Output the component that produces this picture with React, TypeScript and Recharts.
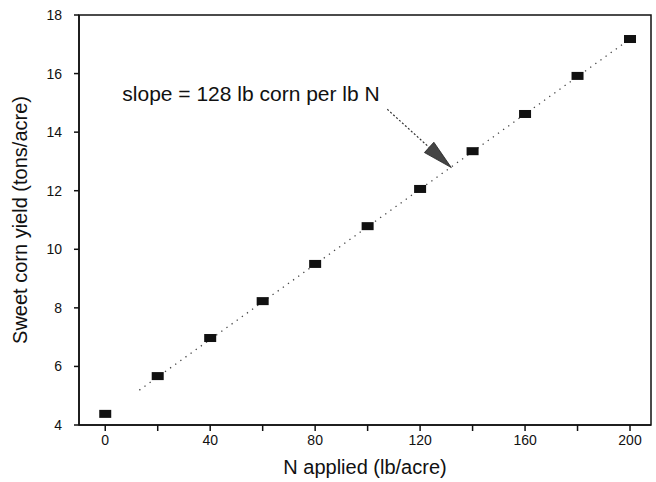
import React from "react";
import {
  ComposedChart,
  Scatter,
  XAxis,
  YAxis,
  ReferenceLine,
  ReferenceArea,
  ReferenceDot,
  Label,
} from "recharts";

// N rate (lb/acre) and sweet corn yield (tons/acre)
const nApplied = [0, 20, 40, 60, 80, 100, 120, 140, 160, 180, 200];
const yieldTons = [4.38, 5.67, 6.97, 8.23, 9.5, 10.79, 12.06, 13.35, 14.62, 15.92, 17.18];

// dotted regression line end points
const fitX = [13, 200];
const fitY = [5.19, 17.18];

// annotation text and arrow (from text to line)
const noteText = "slope = 128 lb corn per lb N";
const notePos = [6.5, 15.05];
const arrowX = [107.5, 131.9];
const arrowY = [14.78, 12.79];

const xTicks = [0, 20, 40, 60, 80, 100, 120, 140, 160, 180, 200];
const yTicks = [4, 6, 8, 10, 12, 14, 16, 18];

const points = nApplied.map((n, i) => ({ x: n, y: yieldTons[i] }));

const FONT = "'Liberation Sans', Arial, Helvetica, sans-serif";

const SquareMark = (props: any) => {
  const { cx, cy } = props;
  if (cx == null || cy == null) return null;
  return <rect x={cx - 6} y={cy - 4} width={12} height={8} fill="#111" />;
};

const ArrowShape = (props: any) => {
  const { x1, y1, x2, y2 } = props;
  if (x1 == null) return null;
  const dx = x2 - x1;
  const dy = y2 - y1;
  const len = Math.sqrt(dx * dx + dy * dy);
  const ux = dx / len;
  const uy = dy / len;
  const headLen = 30;
  const headW = 7;
  const bx = x2 - ux * headLen;
  const by = y2 - uy * headLen;
  const pts = `${x2},${y2} ${bx - uy * headW},${by + ux * headW} ${bx + uy * headW},${by - ux * headW}`;
  return (
    <g>
      <line x1={x1} y1={y1} x2={bx} y2={by} stroke="#333" strokeWidth={1.2} strokeDasharray="2 2" />
      <polygon points={pts} fill="#444" stroke="#222" strokeWidth={0.8} />
    </g>
  );
};

const NoteShape = (props: any) => {
  const { cx, cy } = props;
  if (cx == null) return null;
  return (
    <text x={cx} y={cy} fontSize={21} fontFamily={FONT} fill="#111">
      {noteText}
    </text>
  );
};

const YTitle = (props: any) => {
  const vb = props.viewBox || {};
  const cy = (vb.y || 15) + (vb.height || 410) / 2;
  return (
    <text
      x={27}
      y={cy}
      transform={`rotate(-90, 27, ${cy})`}
      textAnchor="middle"
      fontSize={20}
      fontFamily={FONT}
      fill="#111"
    >
      Sweet corn yield (tons/acre)
    </text>
  );
};

export default function App() {
  return (
    <div style={{ position: "absolute", left: 0, top: 0, background: "#fff" }}>
      <ComposedChart
        width={656}
        height={482}
        margin={{ top: 15, right: 5, left: 0, bottom: 0 }}
      >
        <XAxis
          type="number"
          dataKey="x"
          domain={[-10, 208]}
          allowDataOverflow
          ticks={xTicks}
          tickFormatter={(v) => (v % 40 === 0 ? String(v) : "")}
          height={57}
          stroke="#111"
          strokeWidth={1.5}
          tickSize={6}
          tickMargin={4}
          tick={{ fontSize: 14, fill: "#111", fontFamily: FONT }}
        >
          <Label
            value="N applied (lb/acre)"
            position="insideBottom"
            offset={8}
            style={{ fontSize: 20, fill: "#111", fontFamily: FONT }}
          />
        </XAxis>
        <YAxis
          type="number"
          dataKey="y"
          domain={[4, 18]}
          allowDataOverflow
          ticks={yTicks}
          width={79}
          stroke="#111"
          strokeWidth={1.5}
          tickSize={5}
          tickMargin={12}
          tick={{ fontSize: 14, fill: "#111", fontFamily: FONT }}
          label={<YTitle />}
        />
        <ReferenceArea
          x1={-10}
          x2={208}
          y1={4}
          y2={18}
          fill="none"
          fillOpacity={0}
          stroke="#111"
          strokeWidth={1.5}
          ifOverflow="visible"
        />
        <ReferenceLine
          segment={[
            { x: fitX[0], y: fitY[0] },
            { x: fitX[1], y: fitY[1] },
          ]}
          stroke="#444"
          strokeWidth={1.3}
          strokeDasharray="1.3 5"
        />
        <ReferenceLine
          segment={[
            { x: arrowX[0], y: arrowY[0] },
            { x: arrowX[1], y: arrowY[1] },
          ]}
          shape={<ArrowShape />}
        />
        <ReferenceDot x={notePos[0]} y={notePos[1]} r={0} shape={<NoteShape />} />
        <Scatter data={points} shape={<SquareMark />} isAnimationActive={false} />
      </ComposedChart>
    </div>
  );
}
